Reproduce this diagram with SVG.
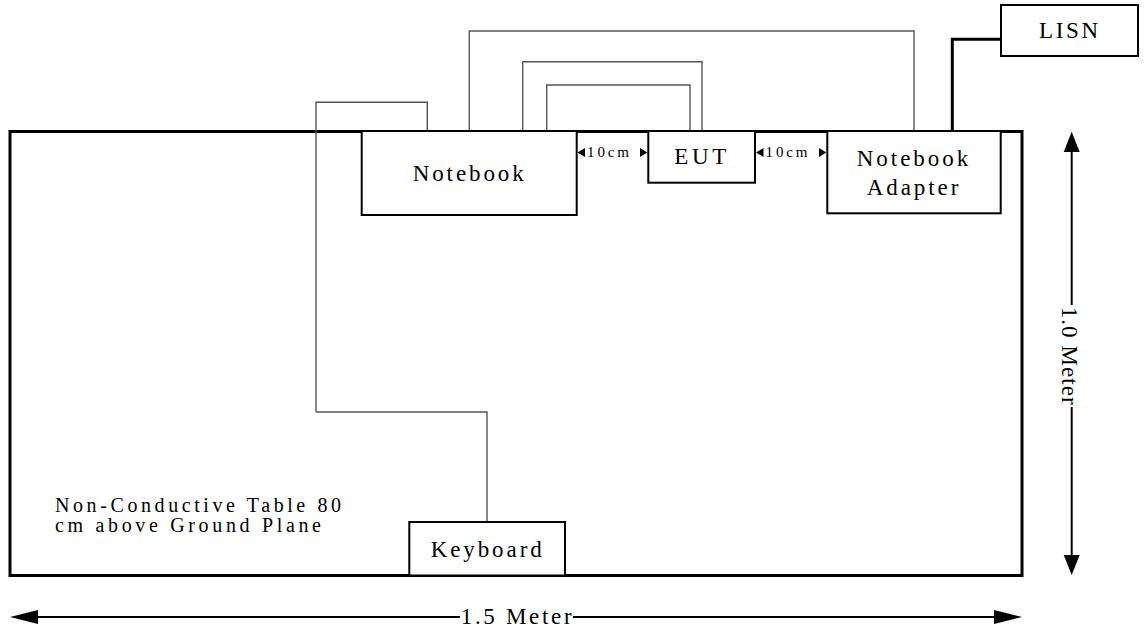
<svg xmlns="http://www.w3.org/2000/svg" width="1144" height="632" viewBox="0 0 1144 632" font-family="'Liberation Serif', 'Times New Roman', serif">
<style>
  text{font-family:"Liberation Serif","Times New Roman",serif;fill:#000;}
  .lbl{font-size:23px;}
  .tbl{font-size:20px;}
  .sm{font-size:15px;}
  .box{fill:#fff;stroke:#000;stroke-width:2;}
  .wire{fill:none;stroke:#555;stroke-width:1.4;}
  .thick{fill:none;stroke:#000;stroke-width:3;}
  .dim{fill:none;stroke:#000;stroke-width:2;}
</style>
<rect width="1144" height="632" fill="#fff"/>
<g id="table">
  <rect x="10" y="131.5" width="1012" height="444" fill="none" stroke="#000" stroke-width="3"/>
  <text class="tbl" x="55" y="512" textLength="286" lengthAdjust="spacing">Non-Conductive Table 80</text>
  <text class="tbl" x="55" y="532" textLength="266" lengthAdjust="spacing">cm above Ground Plane</text>
</g>
<g id="connectors">
  <polyline class="wire" points="316,412 316,102.3 427.3,102.3 427.3,131"/>
  <polyline class="wire" points="316,412 487,412 487,522"/>
  <polyline class="wire" points="469.3,131 469.3,31 914,31 914,131"/>
  <polyline class="wire" points="522.7,131 522.7,61.7 702,61.7 702,131"/>
  <polyline class="wire" points="546.7,131 546.7,85 690,85 690,131"/>
  <polyline class="thick" points="952.3,131 952.3,39.3 1001,39.3"/>
</g>
<g id="notebook">
  <rect class="box" x="361.7" y="131" width="215" height="84"/>
  <text class="lbl" x="412.7" y="180.7" textLength="111" lengthAdjust="spacing">Notebook</text>
</g>
<g id="eut">
  <rect class="box" x="648.3" y="131" width="106.7" height="51.7"/>
  <text class="lbl" x="674.3" y="164.3" textLength="52" lengthAdjust="spacing">EUT</text>
</g>
<g id="adapter">
  <rect class="box" x="827.3" y="131" width="173.4" height="82.3"/>
  <text class="lbl" x="856.7" y="165.7" textLength="111.6" lengthAdjust="spacing">Notebook</text>
  <text class="lbl" x="866.7" y="195" textLength="91.6" lengthAdjust="spacing">Adapter</text>
</g>
<g id="lisn">
  <rect class="box" x="1001" y="5" width="137" height="51"/>
  <text class="lbl" x="1039" y="38.3" textLength="59" lengthAdjust="spacing">LISN</text>
</g>
<g id="keyboard">
  <rect class="box" x="409.3" y="522" width="155.7" height="53.5"/>
  <text class="lbl" x="430.7" y="556.7" textLength="111" lengthAdjust="spacing">Keyboard</text>
</g>
<g id="spacing-left">
  <polygon points="577.5,152.5 585,148 585,157"/>
  <polygon points="647.3,152.5 640,148 640,157"/>
  <text class="sm" x="587" y="157" textLength="42" lengthAdjust="spacing">10cm</text>
</g>
<g id="spacing-right">
  <polygon points="756,152.5 763.5,148 763.5,157"/>
  <polygon points="826.3,152.5 819,148 819,157"/>
  <text class="sm" x="765.5" y="157" textLength="42" lengthAdjust="spacing">10cm</text>
</g>
<g id="dim-width">
  <line class="dim" x1="30" y1="617" x2="460" y2="617"/>
  <line class="dim" x1="573" y1="617" x2="1000" y2="617"/>
  <polygon points="10,617 38,610 38,624"/>
  <polygon points="1022,617 994,610 994,624"/>
  <text class="lbl" x="460.7" y="623.5" textLength="111" lengthAdjust="spacing">1.5 Meter</text>
</g>
<g id="dim-height">
  <line class="dim" x1="1071.7" y1="145" x2="1071.7" y2="305"/>
  <line class="dim" x1="1071.7" y1="407" x2="1071.7" y2="560"/>
  <polygon points="1071.7,131.7 1063.7,152 1079.7,152"/>
  <polygon points="1071.7,575 1063.7,555 1079.7,555"/>
  <text class="lbl" transform="translate(1062,306.7) rotate(90)" x="0" y="0" textLength="98" lengthAdjust="spacing">1.0 Meter</text>
</g>
</svg>
